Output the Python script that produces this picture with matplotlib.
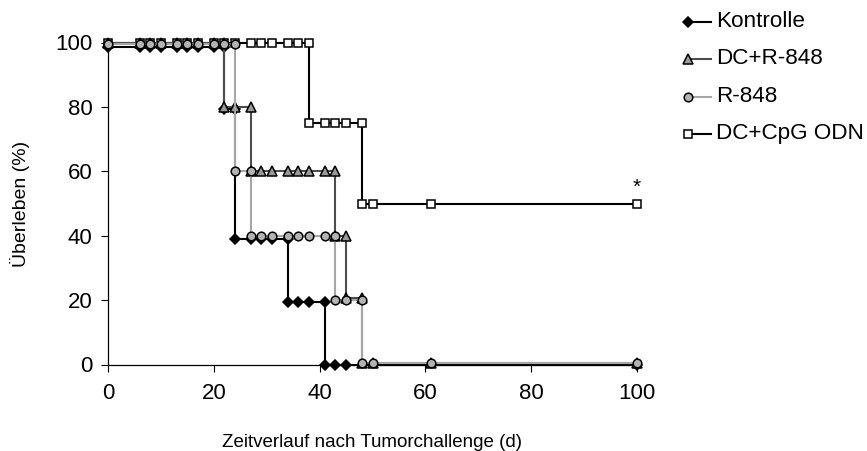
import matplotlib
matplotlib.use("Agg")
import matplotlib.pyplot as plt
from matplotlib.lines import Line2D

plt.rcParams['font.family'] = ['Liberation Sans', 'DejaVu Sans']

# Kaplan-Meier style step data (duplicated x = drop)
kontrolle_x = [0, 6, 8, 10, 13, 15, 17, 20, 22, 22, 24, 24, 27, 29, 31, 34, 34, 36, 38, 41, 41, 43, 45, 100]
kontrolle_y = [98.5] * 9 + [79.5] * 2 + [39] * 5 + [19.5] * 4 + [0] * 4

dcr_x = [0, 6, 8, 10, 13, 15, 17, 20, 22, 22, 24, 27, 27, 29, 31, 34, 36, 38, 41, 43, 43, 45, 45, 48, 48, 50, 61, 100]
dcr_y = [100] * 9 + [80] * 3 + [60] * 8 + [40] * 2 + [20.5] * 2 + [0.5] * 4

r848_x = [0, 6, 8, 10, 13, 15, 17, 20, 22, 24, 24, 27, 27, 29, 31, 34, 36, 38, 41, 43, 43, 45, 48, 48, 50, 61, 100]
r848_y = [99.5] * 10 + [60] * 2 + [40] * 8 + [20] * 3 + [0.5] * 4

cpg_x = [0, 6, 8, 10, 13, 15, 17, 20, 22, 24, 27, 29, 31, 34, 36, 38, 38, 41, 43, 45, 48, 48, 50, 61, 100]
cpg_y = [100] * 16 + [75] * 5 + [50] * 4

labels = ["Kontrolle", "DC+R-848", "R-848", "DC+CpG ODN"]
x_ticks = [0, 20, 40, 60, 80, 100]
y_ticks = [0, 20, 40, 60, 80, 100]

W, H = 867, 451
fig = plt.figure(figsize=(W / 100, H / 100), dpi=100)
ax = fig.add_axes([108 / W, 1 - 364.5 / H, (637 - 108) / W, (364.5 - 42.5) / H])

styles = {
    "Kontrolle": dict(color="black", marker="D", mfc="black", mec="black", ms=5.5, lw=1.5),
    "DC+R-848": dict(color="#4d4d4d", marker="^", mfc="#999999", mec="black", ms=6.5, lw=1.5),
    "R-848": dict(color="#a6a6a6", marker="o", mfc="#b3b3b3", mec="black", ms=6.2, lw=1.5),
    "DC+CpG ODN": dict(color="black", marker="s", mfc="white", mec="black", ms=5.8, lw=1.5),
}

data = {
    "Kontrolle": (kontrolle_x, kontrolle_y),
    "DC+R-848": (dcr_x, dcr_y),
    "R-848": (r848_x, r848_y),
    "DC+CpG ODN": (cpg_x, cpg_y),
}
zorders = {"DC+CpG ODN": 2, "Kontrolle": 3, "DC+R-848": 4, "R-848": 5}

for name in labels:
    xs, ys = data[name]
    st = styles[name]
    ax.plot(xs, ys, color=st["color"], lw=st["lw"], marker=st["marker"],
            mfc=st["mfc"], mec=st["mec"], mew=1.1, ms=st["ms"],
            clip_on=False, zorder=zorders[name])

ax.annotate("*", xy=(100, 50), xytext=(0, 5), textcoords="offset points",
            ha="center", va="bottom", fontsize=15)

ax.set_xlim(0, 100)
ax.set_ylim(0, 100)
ax.set_xticks(x_ticks)
ax.set_yticks(y_ticks)
ax.tick_params(labelsize=16, length=5, width=0.8, direction="out", colors="black")
ax.tick_params(axis="x", pad=8)
ax.tick_params(axis="y", pad=6)
for s in ["top", "right"]:
    ax.spines[s].set_visible(False)
for s in ["left", "bottom"]:
    ax.spines[s].set_linewidth(0.9)
ax.set_xlabel("Zeitverlauf nach Tumorchallenge (d)", fontsize=13.5, labelpad=22)
ax.set_ylabel("Überleben (%)", fontsize=14, labelpad=18)

# legend drawn in figure pixel coordinates
leg_rows = [21.5, 59, 96.5, 133.5]
for name, yy in zip(labels, leg_rows):
    st = styles[name]
    yf = 1 - yy / H
    fig.add_artist(Line2D([688 / W, 711 / W], [yf, yf], color=st["color"], lw=st["lw"]))
    fig.add_artist(Line2D([688 / W], [yf], marker=st["marker"], mfc=st["mfc"], mec=st["mec"],
                          mew=1.1, ms=st["ms"], lw=0))
    fig.text(716 / W, yf, name, fontsize=16.2, va="center", ha="left")

fig.savefig("out.png", dpi=100)
